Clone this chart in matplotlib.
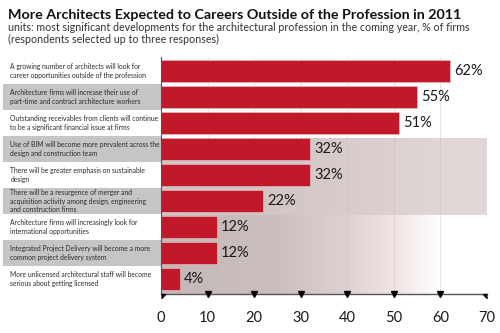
import numpy as np
import matplotlib
matplotlib.use("Agg")
import matplotlib.pyplot as plt
from matplotlib.patches import Rectangle
from matplotlib.transforms import blended_transform_factory

plt.rcParams["font.family"] = ["Lato", "DejaVu Sans"]

TITLE = "More Architects Expected to Careers Outside of the Profession in 2011"
SUBTITLE = ("units: most significant developments for the architectural profession in the coming year, % of firms\n"
            "(respondents selected up to three responses)")

labels = [
    "A growing number of architects will look for\ncareer opportunities outside of the profession",
    "Architecture firms will increase their use of\npart-time and contract architecture workers",
    "Outstanding receivables from clients will continue\nto be a significant financial issue at firms",
    "Use of BIM will become more prevalent across the\ndesign and construction team",
    "There will be greater emphasis on sustainable\ndesign",
    "There will be a resurgence of merger and\nacquisition activity among design, engineering\nand construction firms",
    "Architecture firms will increasingly look for\ninternational opportunities",
    "Integrated Project Delivery will become a more\ncommon project delivery system",
    "More unlicensed architectural staff will become\nserious about getting licensed",
]
values = [62, 55, 51, 32, 32, 22, 12, 12, 4]
ticks = [0, 10, 20, 30, 40, 50, 60, 70]

BAR_RED = "#c1182a"
LABEL_GREY = "#c5c5c5"

fig = plt.figure(figsize=(5.0, 3.33), dpi=100)
ax = fig.add_axes([0.322, 0.1171, 0.652, 0.7117])

rows = np.arange(len(values))
ax.set_xlim(0, 70)
ax.set_ylim(8.58, -0.54)

# shaded backdrop behind the lower rows, fading out to the right
xs = np.linspace(0, 70, 400)
stops_x = [0, 25, 40, 50, 60, 70]
stops_c = [197, 203, 222, 240, 255, 255]
r = np.interp(xs, stops_x, stops_c)
g = np.interp(xs, stops_x, [c - 13 for c in stops_c[:4]] + [255, 255])
rgb = np.stack([r, g, g], axis=-1)[None, :, :] / 255.0
ax.imshow(rgb, extent=[0, 70, 8.58, 2.58], aspect="auto", zorder=0, interpolation="bilinear")
ax.add_patch(Rectangle((0, 2.58), 70, 2.96, facecolor="#d6c9c9", alpha=0.75, edgecolor="none", zorder=0.5))

for t in ticks[1:-1]:
    ax.axvline(t, color="#c9bfbf", lw=0.5, alpha=0.6, zorder=1)

ax.barh(rows, values, height=0.86, color=BAR_RED, edgecolor="#e8c8c8", linewidth=0.4, zorder=2)

for y, v in zip(rows, values):
    ax.text(v + 0.9, y, f"{v}%", va="center", ha="left", fontsize=10.5, color="#1a1a1a", zorder=3)

# category labels, alternating grey boxes
trans = blended_transform_factory(ax.transAxes, ax.transData)
for y, lab in zip(rows, labels):
    if y % 2 == 1:
        ax.add_patch(Rectangle((-0.485, y - 0.49), 0.485, 0.98, transform=trans,
                               facecolor=LABEL_GREY, edgecolor="none", clip_on=False, zorder=0))
    ax.text(-0.462, y, lab, transform=trans, ha="left", va="center", fontsize=4.85,
            color="#2b2b2b", linespacing=1.3)

for side in ["top", "right"]:
    ax.spines[side].set_visible(False)
ax.spines["left"].set_color("#555555")
ax.spines["left"].set_linewidth(0.8)
ax.spines["bottom"].set_color("#555555")
ax.spines["bottom"].set_linewidth(1.0)

ax.set_yticks([])
ax.set_xticks(ticks)
ax.tick_params(axis="x", length=0, pad=12, labelsize=10.5, labelcolor="#1a1a1a")

# triangular tick marks under the axis
mid = ticks[1:-1]
ax.plot(mid, [8.58] * len(mid), linestyle="none", marker="v", markersize=4.5,
        color="black", clip_on=False, zorder=4)
ax.plot([ticks[0]], [8.58], linestyle="none", marker=[(0, 0), (1, 0), (0, -1)], markersize=6,
        color="black", clip_on=False, zorder=4)
ax.plot([ticks[-1]], [8.58], linestyle="none", marker=[(0, 0), (-1, 0), (0, -1)], markersize=6,
        color="black", clip_on=False, zorder=4)

fig.text(0.016, 0.955, TITLE, fontsize=10.3, fontweight="bold", color="#111111", va="center", ha="left")
fig.text(0.016, 0.899, SUBTITLE, fontsize=7.7, color="#333333", va="center", ha="left", linespacing=1.1)

fig.savefig("out.png", dpi=100)
